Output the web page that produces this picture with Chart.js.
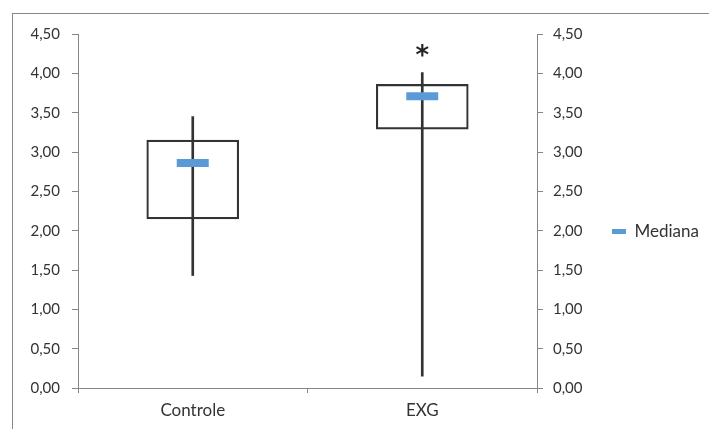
<!DOCTYPE html>
<html lang="pt">
<head>
    <meta charset="UTF-8">
    <title>Controle vs EXG</title>
    <script src="https://cdn.jsdelivr.net/npm/chart.js"></script>
    <style>
        body {
            margin: 0;
            padding: 0;
            background-color: #fff;
        }

        .frame {
            position: absolute;
            left: 12px;
            top: 13px;
            right: 0;
            bottom: 0;
            border-left: 1px solid #888;
            border-top: 1px solid #888;
        }

        .chart-container {
            position: absolute;
            left: 0;
            top: 0;
            width: 709px;
            height: 429px;
        }
    </style>
</head>
<body>
    <div class="frame"></div>
    <div class="chart-container">
        <canvas id="boxChart" width="709" height="429"></canvas>
    </div>

    <script>
        // values
        const categories = ['Controle', 'EXG'];
        const whiskerLow = [1.43, 0.15];
        const whiskerHigh = [3.45, 4.01];
        const boxLow = [2.15, 3.29];
        const boxHigh = [3.15, 3.86];
        const median = [2.86, 3.71];
        const starMarks = [null, 4.29];
        const yTickLabels = ['0,00', '0,50', '1,00', '1,50', '2,00', '2,50', '3,00', '3,50', '4,00', '4,50'];

        const axisColor = '#868686';
        const textColor = '#333';
        const tickFont = { family: 'Lato', size: 15 };

        // asterisk above the significant group
        const starPlugin = {
            id: 'star',
            afterDatasetsDraw(chart) {
                const { ctx, scales: { x, y } } = chart;
                ctx.save();
                ctx.font = 'bold 26px "DejaVu Sans"';
                ctx.fillStyle = '#262626';
                ctx.textAlign = 'center';
                ctx.textBaseline = 'alphabetic';
                starMarks.forEach((v, i) => {
                    if (v === null) return;
                    ctx.fillText('*', x.getPixelForValue(i), y.getPixelForValue(v) + 13);
                });
                ctx.restore();
            }
        };

        const ctx = document.getElementById('boxChart').getContext('2d');
        const boxChart = new Chart(ctx, {
            type: 'bar',
            data: {
                labels: categories,
                datasets: [
                    {
                        label: 'Bigode',
                        data: categories.map((c, i) => [whiskerLow[i], whiskerHigh[i]]),
                        backgroundColor: '#333',
                        borderWidth: 0,
                        barThickness: 2,
                        grouped: false,
                        order: 3
                    },
                    {
                        label: 'Caixa',
                        data: categories.map((c, i) => [boxLow[i], boxHigh[i]]),
                        backgroundColor: 'rgba(0, 0, 0, 0)',
                        borderColor: '#333',
                        borderWidth: 1.5,
                        borderSkipped: false,
                        barThickness: 92,
                        grouped: false,
                        order: 2
                    },
                    {
                        type: 'line',
                        label: 'Mediana',
                        data: median,
                        showLine: false,
                        pointStyle: 'line',
                        pointRadius: 16,
                        pointBorderWidth: 8,
                        pointBorderColor: '#5B9BD5',
                        borderColor: '#5B9BD5',
                        order: 1
                    }
                ]
            },
            options: {
                responsive: false,
                animation: false,
                events: [],
                layout: {
                    padding: { left: 12, top: 34, right: 0, bottom: 0 }
                },
                plugins: {
                    tooltip: { enabled: false },
                    legend: {
                        position: 'right',
                        labels: {
                            usePointStyle: true,
                            pointStyleWidth: 14,
                            boxWidth: 10,
                            boxHeight: 10,
                            color: textColor,
                            font: { family: 'Lato', size: 17 },
                            generateLabels: chart => Chart.defaults.plugins.legend.labels.generateLabels(chart)
                                .filter(l => l.text === 'Mediana')
                                .map(l => ({ ...l, lineWidth: 5 }))
                        }
                    }
                },
                scales: {
                    x: {
                        grid: { drawOnChartArea: false, offset: true, tickLength: 5, color: axisColor },
                        border: { color: axisColor },
                        ticks: { color: textColor, font: { family: 'Lato', size: 17 }, padding: 7 },
                        afterFit(scale) { scale.height = 41; }
                    },
                    y: {
                        position: 'left',
                        min: 0,
                        max: 4.5,
                        ticks: {
                            stepSize: 0.5,
                            color: textColor,
                            font: tickFont,
                            padding: 12,
                            callback: (v, i) => yTickLabels[i]
                        },
                        grid: { drawOnChartArea: false, tickLength: 6, color: axisColor },
                        border: { color: axisColor },
                        afterFit(scale) { scale.width = 66; }
                    },
                    y2: {
                        position: 'right',
                        min: 0,
                        max: 4.5,
                        ticks: {
                            stepSize: 0.5,
                            color: textColor,
                            font: tickFont,
                            padding: 10,
                            callback: (v, i) => yTickLabels[i]
                        },
                        grid: { drawOnChartArea: false, tickLength: 6, color: axisColor },
                        border: { color: axisColor },
                        afterFit(scale) { scale.width = 65; }
                    }
                }
            },
            plugins: [starPlugin]
        });
    </script>
</body>
</html>
